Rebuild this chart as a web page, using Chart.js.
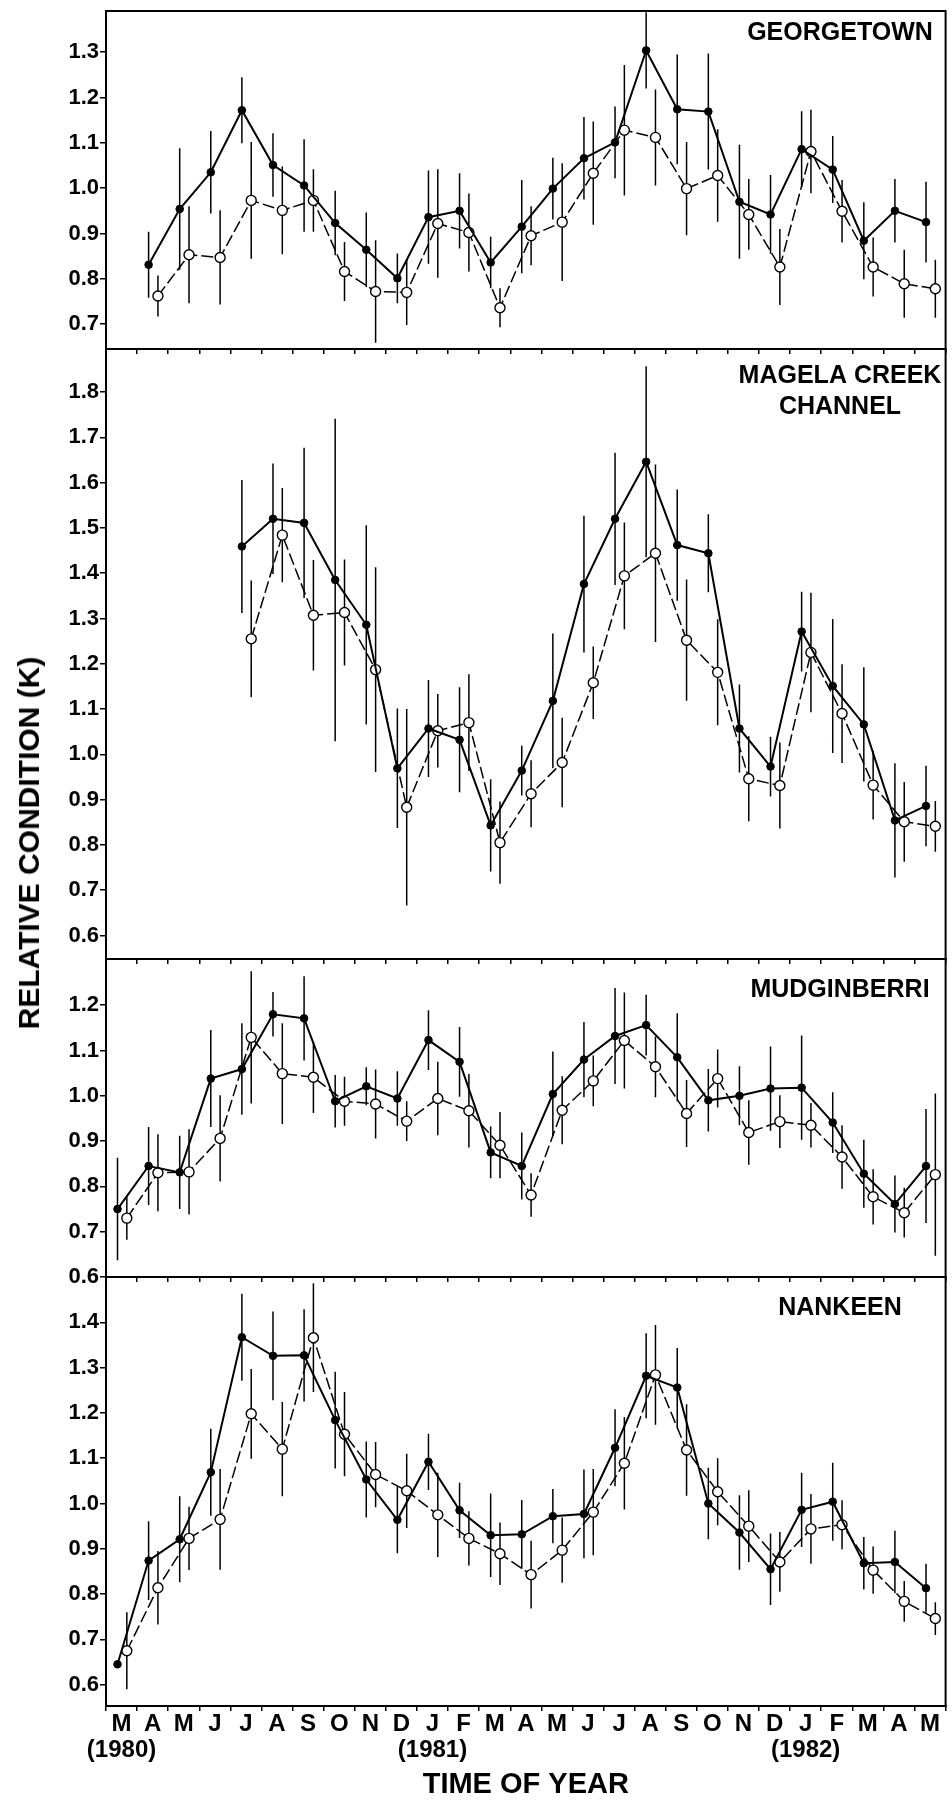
<!DOCTYPE html>
<html>
<head>
<meta charset="utf-8">
<script src="https://cdn.jsdelivr.net/npm/chart.js@4.4.1/dist/chart.umd.min.js"></script>
<style>
  html, body { margin: 0; padding: 0; background: #fff; }
  #fig { position: relative; width: 952px; height: 1805px; overflow: hidden; background: #fff; }
  #fig canvas { position: absolute; left: 0; }
  #ytitle {
    position: absolute; left: 29px; top: 843px;
    transform: translate(-50%, -50%) rotate(-90deg);
    white-space: nowrap; line-height: 1;
    font: bold 30px "Liberation Sans", Arial, Helvetica, sans-serif; color: #000;
  }
</style>
</head>
<body>
<div id="fig">
  <canvas id="georgetown"></canvas>
  <canvas id="magela"></canvas>
  <canvas id="mudginberri"></canvas>
  <canvas id="nankeen"></canvas>
  <div id="ytitle">RELATIVE CONDITION (K)</div>
</div>
<script>
// --- data: Mar 1980 .. May 1982, one slot per month ---
const monthLabels = ['M','A','M','J','J','A','S','O','N','D','J','F','M','A','M','J','J','A','S','O','N','D','J','F','M','A','M'];
const yearLabels  = ['(1980)','','','','','','','','','','(1981)','','','','','','','','','','','','(1982)','','','',''];

// Georgetown
const georgeFilled    = [null, 0.831, 0.954, 1.035, 1.172, 1.051, 1.006, 0.923, 0.864, 0.801, 0.936, 0.950, 0.836, 0.915, 0.999, 1.066, 1.101, 1.304, 1.174, 1.169, 0.970, 0.942, 1.086, 1.041, 0.884, 0.950, 0.925];
const georgeFilledErr = [null, 0.073, 0.134, 0.091, 0.073, 0.070, 0.102, 0.071, 0.082, 0.055, 0.103, 0.083, 0.057, 0.103, 0.068, 0.091, 0.079, 0.084, 0.121, 0.128, 0.126, 0.087, 0.084, 0.074, 0.085, 0.070, 0.089];
const georgeOpen      = [null, 0.762, 0.853, 0.847, 0.973, 0.951, 0.973, 0.816, 0.772, 0.770, 0.922, 0.902, 0.736, 0.895, 0.925, 1.033, 1.128, 1.112, 0.999, 1.028, 0.942, 0.826, 1.081, 0.949, 0.826, 0.789, 0.778];
const georgeOpenErr   = [null, 0.045, 0.107, 0.104, 0.129, 0.097, 0.069, 0.065, 0.113, 0.072, 0.120, 0.086, 0.043, 0.065, 0.130, 0.114, 0.144, 0.106, 0.103, 0.102, 0.078, 0.084, 0.092, 0.069, 0.065, 0.075, 0.064];
const georgeTicks     = [0.7, 0.8, 0.9, 1.0, 1.1, 1.2, 1.3];

// Magela Creek channel
const magelaFilled    = [null, null, null, null, 1.459, 1.520, 1.511, 1.385, 1.286, 0.969, 1.057, 1.032, 0.843, 0.964, 1.118, 1.376, 1.520, 1.646, 1.462, 1.444, 1.057, 0.973, 1.271, 1.151, 1.066, 0.854, 0.886];
const magelaFilledErr = [null, null, null, null, 0.147, 0.122, 0.166, 0.356, 0.220, 0.132, 0.107, 0.116, 0.102, 0.055, 0.149, 0.151, 0.146, 0.211, 0.123, 0.086, 0.097, 0.066, 0.088, 0.148, 0.126, 0.126, 0.089];
const magelaOpen      = [null, null, null, null, 1.255, 1.484, 1.307, 1.313, 1.187, 0.883, 1.052, 1.070, 0.805, 0.913, 0.982, 1.158, 1.394, 1.444, 1.252, 1.181, 0.946, 0.931, 1.225, 1.090, 0.932, 0.851, 0.841];
const magelaOpenErr   = [null, null, null, null, 0.129, 0.104, 0.122, 0.117, 0.226, 0.217, 0.081, 0.107, 0.091, 0.074, 0.099, 0.080, 0.118, 0.196, 0.134, 0.117, 0.094, 0.095, 0.132, 0.109, 0.076, 0.088, 0.056];
const magelaTicks     = [0.6, 0.7, 0.8, 0.9, 1.0, 1.1, 1.2, 1.3, 1.4, 1.5, 1.6, 1.7, 1.8];

// Mudginberri
const mudFilled    = [0.750, 0.845, 0.831, 1.038, 1.059, 1.180, 1.171, 0.988, 1.021, 0.994, 1.123, 1.075, 0.875, 0.845, 1.004, 1.080, 1.132, 1.156, 1.085, 0.990, 1.000, 1.016, 1.018, 0.941, 0.828, 0.761, 0.845];
const mudFilledErr = [0.113, 0.086, 0.081, 0.107, 0.101, 0.049, 0.093, 0.058, 0.042, 0.060, 0.066, 0.077, 0.057, 0.074, 0.094, 0.083, 0.106, 0.067, 0.097, 0.069, 0.065, 0.093, 0.115, 0.067, 0.075, 0.063, 0.126];
const mudOpen      = [0.730, 0.830, 0.832, 0.906, 1.129, 1.049, 1.041, 0.988, 0.982, 0.944, 0.994, 0.967, 0.891, 0.781, 0.968, 1.033, 1.122, 1.064, 0.961, 1.038, 0.919, 0.943, 0.935, 0.865, 0.777, 0.742, 0.826];
const mudOpenErr   = [0.048, 0.085, 0.094, 0.095, 0.146, 0.111, 0.079, 0.054, 0.076, 0.044, 0.081, 0.081, 0.073, 0.048, 0.075, 0.056, 0.106, 0.067, 0.074, 0.064, 0.071, 0.058, 0.049, 0.070, 0.061, 0.055, 0.179];
const mudTicks     = [0.6, 0.7, 0.8, 0.9, 1.0, 1.1, 1.2];

// Nankeen
const nankeenFilled    = [0.645, 0.874, 0.921, 1.069, 1.367, 1.326, 1.327, 1.184, 1.053, 0.964, 1.092, 0.985, 0.930, 0.932, 0.972, 0.977, 1.123, 1.282, 1.256, 1.000, 0.936, 0.855, 0.986, 1.004, 0.868, 0.871, 0.813];
const nankeenFilledErr = [0, 0.087, 0.095, 0.096, 0.096, 0.098, 0.102, 0.107, 0.084, 0.074, 0.062, 0.061, 0.092, 0.076, 0.060, 0.098, 0.085, 0.094, 0.087, 0.079, 0.082, 0.079, 0.082, 0.086, 0.058, 0.069, 0.054];
const nankeenOpen      = [0.675, 0.814, 0.923, 0.965, 1.198, 1.120, 1.366, 1.153, 1.064, 1.028, 0.975, 0.923, 0.889, 0.843, 0.897, 0.981, 1.089, 1.284, 1.118, 1.026, 0.950, 0.871, 0.944, 0.953, 0.853, 0.784, 0.746];
const nankeenOpenErr   = [0.085, 0.081, 0.070, 0.111, 0.099, 0.104, 0.120, 0.093, 0.072, 0.082, 0.093, 0.060, 0.069, 0.075, 0.072, 0.095, 0.102, 0.110, 0.101, 0.074, 0.079, 0.066, 0.077, 0.054, 0.052, 0.045, 0.036];
const nankeenTicks     = [0.6, 0.7, 0.8, 0.9, 1.0, 1.1, 1.2, 1.3, 1.4];

// --- drawing ---
const FONT = '"Liberation Sans", Arial, Helvetica, sans-serif';
const DX_FILLED = 0.37;   // filled dots sit a little left of the month centre
const DX_OPEN = 0.67;     // open circles a little right

function series(vals, dx) {
  const pts = [];
  vals.forEach((v, i) => { if (v !== null) pts.push({ x: i + dx, y: v }); });
  return pts;
}

function errorBars(vals, errs, dx) {
  const pts = [];
  vals.forEach((v, i) => {
    if (v === null || !errs[i]) return;
    pts.push({ x: i + dx, y: v - errs[i] }, { x: i + dx, y: v + errs[i] }, { x: i + dx, y: null });
  });
  return pts;
}

// frame round the plot area (top and right sides have no axis)
const frame = {
  id: 'frame',
  afterDatasetsDraw(chart) {
    const { ctx, chartArea: a } = chart;
    ctx.save();
    ctx.lineWidth = 2;
    ctx.strokeStyle = '#000';
    ctx.strokeRect(a.left, a.top, a.right - a.left, a.bottom - a.top);
    ctx.restore();
  }
};

// site name in the upper right of each panel
const panelLabel = {
  id: 'panelLabel',
  afterDraw(chart, args, opts) {
    if (!opts.lines) return;
    const { ctx, chartArea } = chart;
    ctx.save();
    ctx.font = 'bold 25px ' + FONT;
    ctx.fillStyle = '#000';
    ctx.textAlign = 'center';
    ctx.textBaseline = 'alphabetic';
    opts.lines.forEach((t, i) => ctx.fillText(t, 840, chartArea.top + opts.dy + i * 31));
    ctx.restore();
  }
};

function makePanel(id, p) {
  const canvas = document.getElementById(id);
  canvas.width = 952;
  canvas.height = p.height;
  canvas.style.top = p.top + 'px';

  new Chart(canvas, {
    type: 'line',
    data: {
      datasets: [
        { data: series(p.filled, DX_FILLED), borderColor: '#000', borderWidth: 2, tension: 0,
          pointRadius: 3.8, pointBackgroundColor: '#000', pointBorderColor: '#000', pointBorderWidth: 1, order: 0 },
        { data: series(p.open, DX_OPEN), borderColor: '#000', borderWidth: 1.5, borderDash: [12, 4], tension: 0,
          pointRadius: 5, pointBackgroundColor: '#fff', pointBorderColor: '#000', pointBorderWidth: 1.4, order: 1 },
        { data: errorBars(p.filled, p.filledErr, DX_FILLED), borderColor: '#000', borderWidth: 1.5,
          pointRadius: 0, spanGaps: false, order: 2 },
        { data: errorBars(p.open, p.openErr, DX_OPEN), borderColor: '#000', borderWidth: 1.5,
          pointRadius: 0, spanGaps: false, order: 3 }
      ]
    },
    options: {
      responsive: false,
      animation: false,
      devicePixelRatio: 1,
      events: [],
      layout: { padding: { top: 16, right: 6, bottom: p.padBottom, left: 0 } },
      plugins: {
        legend: { display: false },
        tooltip: { enabled: false },
        panelLabel: { lines: p.label, dy: p.labelDy }
      },
      scales: {
        x: {
          type: 'linear', min: 0, max: 27, position: 'bottom',
          afterBuildTicks: s => { s.ticks = monthLabels.map((m, i) => ({ value: i + 0.5 })); },
          afterFit: s => { s.height = p.axisHeight; },
          grid: { offset: true, drawOnChartArea: false, drawTicks: true, tickLength: 5, color: '#000', lineWidth: 1.5 },
          border: { display: true, color: '#000', width: 2 },
          ticks: {
            display: p.showMonths, autoSkip: false, maxRotation: 0, minRotation: 0, padding: 0,
            color: '#000', font: { family: FONT, size: 24, weight: 'bold', lineHeight: 1.08 },
            callback: (v, i) => yearLabels[i] ? [monthLabels[i], yearLabels[i]] : monthLabels[i]
          },
          title: {
            display: p.showMonths, text: 'TIME OF YEAR', color: '#000',
            font: { family: FONT, size: 29, weight: 'bold', lineHeight: 1 }, padding: { top: 0, bottom: 6 }
          }
        },
        y: {
          type: 'linear', min: p.min, max: p.max,
          afterBuildTicks: s => { s.ticks = p.ticks.map(v => ({ value: v })); },
          afterFit: s => { s.width = 106; },
          grid: { drawOnChartArea: false, drawTicks: true, tickLength: 6, color: '#000', lineWidth: 1.5 },
          border: { display: true, color: '#000', width: 2 },
          ticks: { padding: 1, color: '#000', font: { family: FONT, size: 22, weight: 'bold' }, callback: v => v.toFixed(1) }
        }
      }
    },
    plugins: [frame, panelLabel]
  });
}

Chart.defaults.font.family = FONT;

makePanel('georgetown', {
  top: -5, height: 370, padBottom: 8, axisHeight: 8, showMonths: false,
  min: 0.645, max: 1.391, ticks: georgeTicks,
  filled: georgeFilled, filledErr: georgeFilledErr, open: georgeOpen, openErr: georgeOpenErr,
  label: ['GEORGETOWN'], labelDy: 28.5
});
makePanel('magela', {
  top: 333, height: 642, padBottom: 8, axisHeight: 8, showMonths: false,
  min: 0.548, max: 1.895, ticks: magelaTicks,
  filled: magelaFilled, filledErr: magelaFilledErr, open: magelaOpen, openErr: magelaOpenErr,
  label: ['MAGELA CREEK', 'CHANNEL'], labelDy: 33.5
});
makePanel('mudginberri', {
  top: 943, height: 350, padBottom: 8, axisHeight: 8, showMonths: false,
  min: 0.6, max: 1.302, ticks: mudTicks,
  filled: mudFilled, filledErr: mudFilledErr, open: mudOpen, openErr: mudOpenErr,
  label: ['MUDGINBERRI'], labelDy: 37.5
});
makePanel('nankeen', {
  top: 1261, height: 544, padBottom: 0, axisHeight: 99, showMonths: true,
  min: 0.553, max: 1.5, ticks: nankeenTicks,
  filled: nankeenFilled, filledErr: nankeenFilledErr, open: nankeenOpen, openErr: nankeenOpenErr,
  label: ['NANKEEN'], labelDy: 37.5
});
</script>
</body>
</html>
